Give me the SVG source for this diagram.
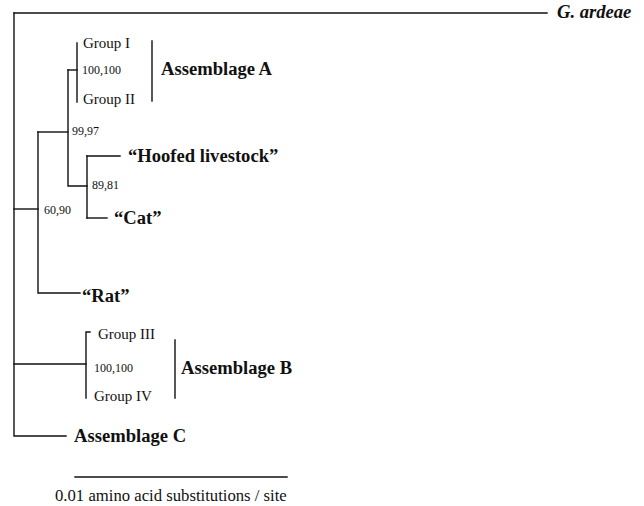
<svg xmlns="http://www.w3.org/2000/svg" width="644" height="506" viewBox="0 0 644 506">
<style>
.ln{stroke:#111;stroke-width:1.4;fill:none;stroke-linecap:square}
.t{font-family:"Liberation Serif","Times New Roman",serif;fill:#111}
.grp{font-size:15px}
.num{font-size:12px}
.big{font-size:18.6px;font-weight:bold}
.sc{font-size:16.7px}
</style>
<rect width="644" height="506" fill="#fff"/>
<g id="connectors">
<path class="ln" d="M14,13 H547"/>
<path class="ln" d="M14,13 V436 H66"/>
<path class="ln" d="M14,209 H38"/>
<path class="ln" d="M38,132 V293 H80"/>
<path class="ln" d="M38,132 H68"/>
<path class="ln" d="M68,70 V186 H87"/>
<path class="ln" d="M68,70 H77"/>
<path class="ln" d="M77,43 V102"/>
<path class="ln" d="M87,156 V218"/>
<path class="ln" d="M87,156 H120"/>
<path class="ln" d="M87,218 H107"/>
<path class="ln" d="M14,364 H86"/>
<path class="ln" d="M90,332 H86 V398"/>
<path class="ln" d="M152,41 V101"/>
<path class="ln" d="M175,340 V398"/>
<path class="ln" d="M75,477 H287"/>
</g>
<g id="node-gardeae"><text class="t big" x="557" y="18" font-style="italic">G. ardeae</text></g>
<g id="node-group1"><text class="t grp" x="83" y="48">Group I</text></g>
<g id="node-group2"><text class="t grp" x="83" y="104">Group II</text></g>
<g id="node-bs-a"><text class="t num" x="82" y="74">100,100</text></g>
<g id="node-assemblageA"><text class="t big" x="161" y="75">Assemblage A</text></g>
<g id="node-bs-9997"><text class="t num" x="72" y="135">99,97</text></g>
<g id="node-hoofed"><text class="t big" x="128" y="162">“Hoofed livestock”</text></g>
<g id="node-bs-8981"><text class="t num" x="92" y="189">89,81</text></g>
<g id="node-cat"><text class="t big" x="114" y="224">“Cat”</text></g>
<g id="node-bs-6090"><text class="t num" x="44" y="214">60,90</text></g>
<g id="node-rat"><text class="t big" x="82" y="302">“Rat”</text></g>
<g id="node-group3"><text class="t grp" x="98" y="339">Group III</text></g>
<g id="node-bs-b"><text class="t num" x="94" y="372">100,100</text></g>
<g id="node-group4"><text class="t grp" x="94" y="401">Group IV</text></g>
<g id="node-assemblageB"><text class="t big" x="181" y="374">Assemblage B</text></g>
<g id="node-assemblageC"><text class="t big" x="74" y="442">Assemblage C</text></g>
<g id="scale"><text class="t sc" x="55" y="501">0.01 amino acid substitutions / site</text></g>
</svg>
